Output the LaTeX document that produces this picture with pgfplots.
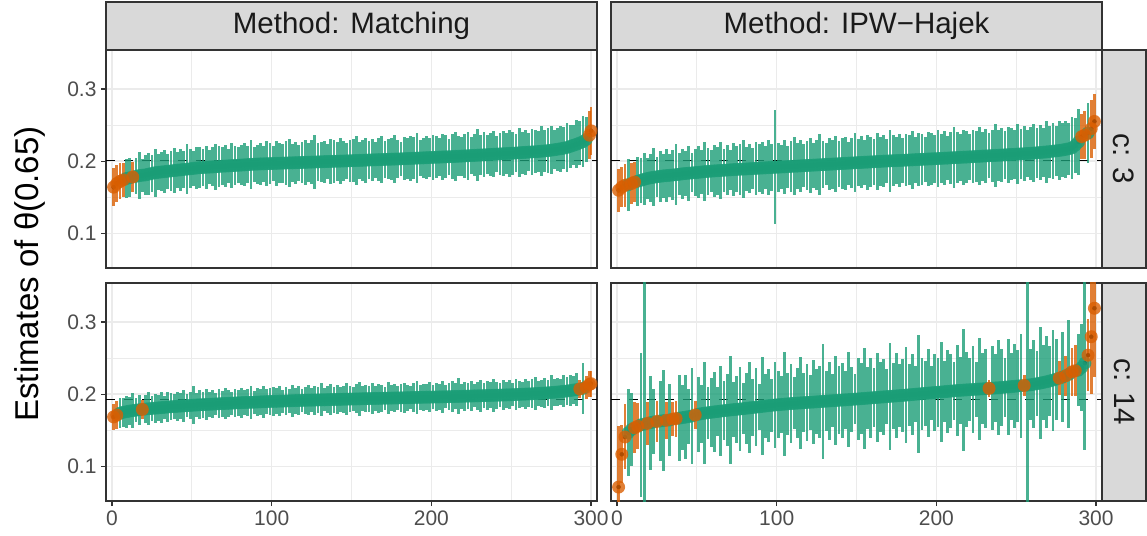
\documentclass[border=0pt]{standalone}
\usepackage{pgfplots}
\usepackage{pgfplotstable}
\pgfplotsset{compat=1.18}
\usepackage{fontspec}
\setmainfont{Liberation Sans}
\definecolor{dkgreen}{HTML}{1B9E77}
\definecolor{dkorange}{HTML}{D95F02}
\definecolor{grey20}{HTML}{333333}
\definecolor{grey30}{HTML}{4D4D4D}
\definecolor{grey10}{HTML}{1A1A1A}
\definecolor{gridc}{HTML}{EBEBEB}
\definecolor{stripc}{HTML}{D9D9D9}

% ---------- Matching, c:3 ----------
\pgfplotstableread[row sep=\\]{
x e h\\
9 0.176 0.027\\ 11 0.177 0.027\\ 15 0.179 0.025\\ 17 0.180 0.032\\ 19 0.1805 0.023\\
21 0.181 0.028\\ 23 0.182 0.029\\ 25 0.183 0.026\\ 27 0.184 0.033\\ 29 0.1845 0.025\\
31 0.185 0.027\\ 33 0.1855 0.030\\ 35 0.186 0.024\\ 37 0.1865 0.028\\ 39 0.187 0.031\\
41 0.1875 0.025\\ 43 0.188 0.029\\ 45 0.1885 0.026\\ 47 0.189 0.035\\ 49 0.1895 0.027\\
51 0.190 0.024\\ 53 0.1905 0.029\\ 55 0.191 0.028\\ 57 0.1912 0.025\\ 59 0.1915 0.030\\
61 0.1918 0.023\\ 63 0.192 0.027\\ 65 0.1923 0.032\\ 67 0.1926 0.028\\ 69 0.193 0.026\\
71 0.1932 0.029\\ 73 0.1935 0.024\\ 75 0.1938 0.031\\ 77 0.194 0.027\\ 79 0.1943 0.025\\
81 0.1946 0.028\\ 83 0.1949 0.030\\ 85 0.1952 0.026\\ 87 0.1955 0.034\\ 89 0.1958 0.024\\
91 0.196 0.027\\ 93 0.1962 0.029\\ 95 0.1963 0.025\\ 97 0.1965 0.031\\ 99 0.1966 0.028\\
101 0.1968 0.024\\ 103 0.197 0.031\\ 105 0.1971 0.028\\ 107 0.1973 0.027\\ 109 0.1974 0.030\\
111 0.1976 0.033\\ 113 0.1977 0.026\\ 115 0.1979 0.029\\ 117 0.198 0.025\\ 119 0.1982 0.028\\
121 0.1983 0.031\\ 123 0.1985 0.027\\ 125 0.1987 0.030\\ 127 0.1988 0.037\\ 129 0.199 0.026\\
131 0.1991 0.028\\ 133 0.1993 0.029\\ 135 0.1995 0.024\\ 137 0.1996 0.031\\ 139 0.1998 0.030\\
141 0.1999 0.027\\ 143 0.2001 0.032\\ 145 0.2002 0.028\\ 147 0.2004 0.025\\ 149 0.2005 0.029\\
151 0.2007 0.030\\ 153 0.2009 0.034\\ 155 0.201 0.026\\ 157 0.2012 0.028\\ 159 0.2014 0.031\\
161 0.2016 0.027\\ 163 0.2017 0.029\\ 165 0.2019 0.025\\ 167 0.2021 0.030\\ 169 0.2022 0.032\\
171 0.2024 0.026\\ 173 0.2026 0.028\\ 175 0.2027 0.029\\ 177 0.2029 0.033\\ 179 0.203 0.027\\
181 0.2032 0.024\\ 183 0.2034 0.030\\ 185 0.2036 0.028\\ 187 0.2038 0.031\\ 189 0.204 0.029\\
191 0.2042 0.035\\ 193 0.2044 0.025\\ 195 0.2046 0.028\\ 197 0.2048 0.030\\ 199 0.205 0.027\\
201 0.2052 0.031\\ 203 0.2054 0.029\\ 205 0.2056 0.026\\ 207 0.2058 0.032\\ 209 0.206 0.030\\
211 0.2061 0.025\\ 213 0.2063 0.031\\ 215 0.2066 0.034\\ 217 0.2068 0.028\\ 219 0.207 0.027\\
221 0.2073 0.030\\ 223 0.2075 0.033\\ 225 0.2078 0.026\\ 227 0.208 0.029\\ 229 0.2083 0.036\\
231 0.2085 0.028\\ 233 0.2088 0.031\\ 235 0.209 0.027\\ 237 0.2093 0.030\\ 239 0.2096 0.032\\
241 0.2098 0.025\\ 243 0.210 0.029\\ 245 0.2103 0.031\\ 247 0.2105 0.028\\ 249 0.2108 0.033\\
251 0.211 0.030\\ 253 0.2113 0.027\\ 255 0.2116 0.034\\ 257 0.2119 0.029\\ 259 0.2122 0.031\\
261 0.2125 0.026\\ 263 0.2128 0.032\\ 265 0.213 0.030\\ 267 0.2134 0.028\\ 269 0.2138 0.035\\
271 0.2142 0.029\\ 273 0.2146 0.031\\ 275 0.2152 0.033\\ 277 0.2158 0.027\\ 279 0.2165 0.030\\
281 0.2172 0.032\\ 283 0.218 0.029\\ 285 0.219 0.034\\ 287 0.2205 0.030\\ 289 0.222 0.028\\
291 0.2235 0.033\\ 293 0.2252 0.031\\ 295 0.227 0.035\\ 297 0.230 0.031\\
}\TLg
\pgfplotstableread[row sep=\\]{
x e h\\
1 0.164 0.026\\ 3 0.169 0.026\\ 5 0.172 0.025\\ 7 0.174 0.024\\ 13 0.178 0.021\\
299 0.236 0.033\\ 300 0.242 0.033\\
}\TLo

% ---------- IPW-Hajek, c:3 ----------
\pgfplotstableread[row sep=\\]{
x e h\\
7 0.1675 0.036\\ 13 0.1722 0.034\\ 15 0.1735 0.031\\ 17 0.1748 0.036\\ 19 0.176 0.029\\
21 0.177 0.033\\ 23 0.1777 0.040\\ 25 0.1784 0.028\\ 27 0.179 0.035\\ 29 0.1796 0.031\\
31 0.180 0.037\\ 33 0.1804 0.030\\ 35 0.1808 0.034\\ 37 0.1813 0.042\\ 39 0.1818 0.029\\
41 0.1825 0.035\\ 43 0.1829 0.031\\ 45 0.1833 0.038\\ 47 0.1837 0.027\\ 49 0.1841 0.033\\
51 0.1845 0.036\\ 53 0.185 0.030\\ 55 0.1855 0.041\\ 57 0.1858 0.032\\ 59 0.1862 0.029\\
61 0.1865 0.036\\ 63 0.1868 0.033\\ 65 0.1871 0.039\\ 67 0.1874 0.030\\ 69 0.1877 0.034\\
71 0.188 0.028\\ 73 0.1883 0.037\\ 75 0.1886 0.032\\ 77 0.1888 0.035\\ 79 0.189 0.040\\
81 0.1892 0.031\\ 83 0.1895 0.034\\ 85 0.1898 0.029\\ 87 0.19 0.037\\ 89 0.1903 0.033\\
91 0.1905 0.036\\ 93 0.1908 0.030\\ 95 0.191 0.038\\ 97 0.1912 0.032\\ 99 0.1915 0.079\\
101 0.1917 0.034\\ 103 0.192 0.031\\ 105 0.1922 0.037\\ 107 0.1925 0.029\\ 109 0.1927 0.035\\
111 0.193 0.040\\ 113 0.1932 0.032\\ 115 0.1935 0.036\\ 117 0.1937 0.030\\ 119 0.194 0.034\\
121 0.1942 0.038\\ 123 0.1945 0.031\\ 125 0.1947 0.035\\ 127 0.195 0.042\\ 129 0.1952 0.033\\
131 0.1955 0.029\\ 133 0.1957 0.036\\ 135 0.196 0.034\\ 137 0.1962 0.039\\ 139 0.1965 0.032\\
141 0.1967 0.035\\ 143 0.197 0.037\\ 145 0.1972 0.030\\ 147 0.1975 0.034\\ 149 0.1977 0.041\\
151 0.198 0.033\\ 153 0.1982 0.036\\ 155 0.1985 0.031\\ 157 0.1987 0.038\\ 159 0.199 0.035\\
161 0.1992 0.032\\ 163 0.1995 0.039\\ 165 0.1997 0.034\\ 167 0.2 0.036\\ 169 0.2002 0.030\\
171 0.2004 0.043\\ 173 0.2006 0.035\\ 175 0.2008 0.033\\ 177 0.201 0.037\\ 179 0.2012 0.031\\
181 0.2014 0.036\\ 183 0.2016 0.034\\ 185 0.2018 0.040\\ 187 0.2021 0.032\\ 189 0.2023 0.037\\
191 0.2025 0.035\\ 193 0.2027 0.031\\ 195 0.203 0.038\\ 197 0.2032 0.036\\ 199 0.2034 0.033\\
201 0.2036 0.039\\ 203 0.2039 0.034\\ 205 0.2041 0.037\\ 207 0.2043 0.031\\ 209 0.2046 0.036\\
211 0.2048 0.042\\ 213 0.205 0.035\\ 215 0.2053 0.033\\ 217 0.2055 0.038\\ 219 0.2057 0.036\\
221 0.206 0.032\\ 223 0.2062 0.037\\ 225 0.2065 0.035\\ 227 0.2067 0.040\\ 229 0.207 0.034\\
231 0.2072 0.038\\ 233 0.2075 0.031\\ 235 0.2077 0.036\\ 237 0.208 0.044\\ 239 0.2082 0.035\\
241 0.2085 0.037\\ 243 0.2088 0.033\\ 245 0.209 0.039\\ 247 0.2093 0.036\\ 249 0.2095 0.034\\
251 0.2098 0.041\\ 253 0.21 0.035\\ 255 0.2103 0.038\\ 257 0.2106 0.032\\ 259 0.2109 0.037\\
261 0.2112 0.040\\ 263 0.2116 0.035\\ 265 0.212 0.038\\ 267 0.2124 0.034\\ 269 0.2128 0.043\\
271 0.2133 0.036\\ 273 0.2138 0.039\\ 275 0.2143 0.035\\ 277 0.2148 0.041\\ 279 0.2155 0.037\\
281 0.2163 0.039\\ 283 0.2172 0.036\\ 285 0.2185 0.043\\ 287 0.222 0.038\\ 289 0.2265 0.046\\
295 0.239 0.042\\
}\TRg
\pgfplotstableread[row sep=\\]{
x e h\\
1 0.1597 0.030\\ 3 0.164 0.028\\ 5 0.1665 0.030\\ 9 0.169 0.029\\ 11 0.171 0.028\\
291 0.234 0.031\\ 293 0.236 0.033\\ 297 0.245 0.040\\ 299 0.255 0.038\\
}\TRo

% ---------- Matching, c:14 ----------
\pgfplotstableread[row sep=\\]{
x e h\\
5 0.1736 0.021\\ 7 0.1748 0.020\\ 9 0.1757 0.022\\ 11 0.1765 0.019\\ 13 0.1772 0.024\\
15 0.1778 0.017\\ 17 0.1784 0.021\\
21 0.1794 0.019\\ 23 0.1798 0.023\\ 25 0.1802 0.017\\ 27 0.1806 0.020\\ 29 0.181 0.018\\
31 0.1814 0.022\\ 33 0.1818 0.016\\ 35 0.1822 0.021\\ 37 0.1826 0.019\\ 39 0.1829 0.017\\
41 0.1832 0.020\\ 43 0.1835 0.018\\ 45 0.1838 0.022\\ 47 0.1841 0.016\\ 49 0.1844 0.019\\
51 0.1847 0.026\\ 53 0.185 0.017\\ 55 0.1853 0.020\\ 57 0.1855 0.018\\ 59 0.1857 0.021\\
61 0.186 0.017\\ 63 0.1862 0.019\\ 65 0.1865 0.015\\ 67 0.1867 0.020\\ 69 0.1869 0.018\\
71 0.1871 0.022\\ 73 0.1873 0.019\\ 75 0.1875 0.016\\ 77 0.1878 0.020\\ 79 0.188 0.018\\
81 0.1882 0.021\\ 83 0.1884 0.017\\ 85 0.1886 0.019\\ 87 0.1887 0.023\\ 89 0.1889 0.016\\
91 0.1891 0.020\\ 93 0.1893 0.018\\ 95 0.1895 0.022\\ 97 0.1897 0.017\\ 99 0.1899 0.019\\
101 0.19 0.020\\ 103 0.1901 0.018\\ 105 0.1903 0.021\\ 107 0.1904 0.016\\ 109 0.1906 0.019\\
111 0.1907 0.017\\ 113 0.1909 0.022\\ 115 0.191 0.018\\ 117 0.1912 0.020\\ 119 0.1913 0.016\\
121 0.1915 0.019\\ 123 0.1916 0.021\\ 125 0.1917 0.017\\ 127 0.1918 0.020\\ 129 0.192 0.018\\
131 0.1921 0.023\\ 133 0.1922 0.016\\ 135 0.1923 0.019\\ 137 0.1925 0.021\\ 139 0.1926 0.018\\
141 0.1927 0.020\\ 143 0.1928 0.017\\ 145 0.193 0.019\\ 147 0.1931 0.022\\ 149 0.1932 0.018\\
151 0.1933 0.016\\ 153 0.1934 0.020\\ 155 0.1935 0.024\\ 157 0.1937 0.017\\ 159 0.1938 0.019\\
161 0.1939 0.018\\ 163 0.194 0.021\\ 165 0.1941 0.017\\ 167 0.1942 0.020\\ 169 0.1943 0.019\\
171 0.1944 0.016\\ 173 0.1945 0.022\\ 175 0.1946 0.018\\ 177 0.1947 0.020\\ 179 0.1948 0.017\\
181 0.1949 0.019\\ 183 0.195 0.021\\ 185 0.1951 0.018\\ 187 0.1952 0.016\\ 189 0.1954 0.020\\
191 0.1955 0.023\\ 193 0.1956 0.017\\ 195 0.1957 0.019\\ 197 0.1958 0.018\\ 199 0.1959 0.021\\
201 0.196 0.017\\ 203 0.1961 0.020\\ 205 0.1962 0.018\\ 207 0.1963 0.022\\ 209 0.1964 0.016\\
211 0.1965 0.019\\ 213 0.1967 0.021\\ 215 0.1968 0.018\\ 217 0.1969 0.025\\ 219 0.197 0.017\\
221 0.1972 0.020\\ 223 0.1973 0.018\\ 225 0.1974 0.021\\ 227 0.1976 0.016\\ 229 0.1977 0.019\\
231 0.1978 0.022\\ 233 0.198 0.017\\ 235 0.1981 0.020\\ 237 0.1982 0.018\\ 239 0.1984 0.023\\
241 0.1985 0.019\\ 243 0.1987 0.017\\ 245 0.1988 0.021\\ 247 0.199 0.018\\ 249 0.1991 0.020\\
251 0.1993 0.016\\ 253 0.1995 0.022\\ 255 0.1997 0.019\\ 257 0.1999 0.017\\ 259 0.2001 0.021\\
261 0.2003 0.018\\ 263 0.2005 0.020\\ 265 0.2008 0.023\\ 267 0.201 0.017\\ 269 0.2013 0.019\\
271 0.2016 0.021\\ 273 0.2019 0.018\\ 275 0.2022 0.024\\ 277 0.2026 0.019\\ 279 0.203 0.020\\
281 0.2034 0.018\\ 283 0.2039 0.022\\ 285 0.2044 0.019\\ 287 0.205 0.021\\ 289 0.2057 0.020\\
291 0.2064 0.023\\ 295 0.2081 0.035\\
}\BLg
\pgfplotstableread[row sep=\\]{
x e h\\
1 0.1685 0.018\\ 3 0.171 0.019\\ 19 0.1789 0.013\\
293 0.2072 0.013\\ 297 0.2098 0.016\\ 299 0.2135 0.018\\ 300 0.2145 0.018\\
}\BLo

% ---------- IPW-Hajek, c:14 ----------
\pgfplotstableread[row sep=\\]{
x e h\\
7 0.1465 0.060\\ 9 0.151 0.050\\ 15 0.1575 0.100\\ 17 0.1585 0.200\\
21 0.1605 0.065\\ 23 0.1615 0.045\\ 27 0.1628 0.055\\ 29 0.1633 0.070\\
33 0.1643 0.050\\ 39 0.1668 0.060\\
41 0.1675 0.045\\ 43 0.1682 0.058\\ 45 0.169 0.038\\ 47 0.1698 0.066\\
51 0.1722 0.052\\ 53 0.173 0.040\\ 55 0.1737 0.071\\ 57 0.1743 0.036\\ 59 0.1749 0.048\\
61 0.1755 0.055\\ 63 0.176 0.034\\ 65 0.1766 0.062\\ 67 0.1771 0.041\\ 69 0.1776 0.050\\
71 0.1781 0.075\\ 73 0.1786 0.038\\ 75 0.179 0.046\\ 77 0.1795 0.058\\ 79 0.1799 0.035\\
81 0.1805 0.049\\ 83 0.181 0.063\\ 85 0.1815 0.040\\ 87 0.182 0.054\\ 89 0.1825 0.032\\
91 0.1831 0.068\\ 93 0.1836 0.044\\ 95 0.1841 0.051\\ 97 0.1846 0.037\\ 99 0.185 0.060\\
101 0.1854 0.046\\ 103 0.1858 0.039\\ 105 0.1862 0.072\\ 107 0.1866 0.043\\ 109 0.187 0.055\\
111 0.1873 0.036\\ 113 0.1876 0.049\\ 115 0.1879 0.064\\ 117 0.1882 0.041\\ 119 0.1885 0.053\\
121 0.1888 0.038\\ 123 0.1891 0.058\\ 125 0.1894 0.045\\ 127 0.1897 0.050\\ 129 0.19 0.080\\
131 0.1903 0.042\\ 133 0.1906 0.054\\ 135 0.1909 0.037\\ 137 0.1912 0.061\\ 139 0.1915 0.047\\
141 0.1918 0.052\\ 143 0.1921 0.040\\ 145 0.1924 0.066\\ 147 0.1928 0.045\\ 149 0.1931 0.035\\
151 0.1934 0.057\\ 153 0.1938 0.049\\ 155 0.1941 0.070\\ 157 0.1945 0.043\\ 159 0.1948 0.055\\
161 0.1952 0.041\\ 163 0.1955 0.062\\ 165 0.1959 0.048\\ 167 0.1962 0.053\\ 169 0.1966 0.038\\
171 0.1969 0.074\\ 173 0.1973 0.046\\ 175 0.1976 0.059\\ 177 0.198 0.044\\ 179 0.1983 0.051\\
181 0.1987 0.066\\ 183 0.1991 0.043\\ 185 0.1995 0.056\\ 187 0.1999 0.039\\ 189 0.2003 0.082\\
191 0.2007 0.050\\ 193 0.2011 0.045\\ 195 0.2015 0.061\\ 197 0.2019 0.037\\ 199 0.2023 0.054\\
201 0.2026 0.048\\ 203 0.203 0.069\\ 205 0.2034 0.042\\ 207 0.2038 0.057\\ 209 0.2042 0.051\\
211 0.2046 0.040\\ 213 0.205 0.063\\ 215 0.2053 0.046\\ 217 0.2056 0.085\\ 219 0.2059 0.052\\
221 0.2062 0.044\\ 223 0.2065 0.060\\ 225 0.2068 0.038\\ 227 0.2071 0.071\\ 229 0.2074 0.049\\
231 0.2077 0.055\\ 235 0.2083 0.058\\ 237 0.2086 0.047\\ 239 0.2089 0.066\\
241 0.2093 0.053\\ 243 0.2097 0.041\\ 245 0.2101 0.067\\ 247 0.2105 0.046\\ 249 0.2109 0.058\\
251 0.2113 0.050\\ 253 0.2117 0.072\\ 257 0.2125 0.170\\ 259 0.213 0.049\\
261 0.2137 0.061\\ 263 0.2145 0.045\\ 265 0.2153 0.078\\ 267 0.2162 0.052\\ 269 0.2172 0.064\\
271 0.2183 0.048\\ 273 0.2195 0.070\\ 275 0.2208 0.056\\ 279 0.2236 0.062\\
283 0.2275 0.075\\ 289 0.2333 0.050\\ 291 0.237 0.060\\ 293 0.243 0.120\\
}\BRg
\pgfplotstableread[row sep=\\]{
x e h\\
1 0.0713 0.085\\ 3 0.1167 0.040\\ 5 0.1407 0.045\\ 11 0.1535 0.035\\ 13 0.1555 0.032\\
19 0.1595 0.030\\ 25 0.1622 0.028\\ 31 0.1638 0.026\\ 35 0.1655 0.024\\ 37 0.1662 0.025\\
49 0.1712 0.019\\ 233 0.208 0.012\\ 255 0.2121 0.015\\ 277 0.2222 0.024\\
281 0.2255 0.028\\ 285 0.231 0.033\\ 287 0.2325 0.035\\ 295 0.254 0.050\\
297 0.2796 0.080\\ 299 0.319 0.095\\
}\BRo

\pgfplotsset{
  panel/.style={
    anchor=south west, scale only axis, width=491pt, height=218pt,
    xmin=-3.75, xmax=303.75, ymin=0.052, ymax=0.354,
    xtick={0,100,200,300}, minor xtick={50,150,250},
    ytick={0.1,0.2,0.3}, minor ytick={0.15,0.25},
    xticklabels={}, yticklabels={},
    grid=both,
    major grid style={draw=gridc, line width=1.6pt},
    minor grid style={draw=gridc, line width=0.8pt},
    axis line style={draw=grey20, line width=1.2pt},
    tick align=outside, major tick length=5pt, minor tick length=0pt,
    tick style={draw=grey20, line width=1.1pt},
    xtick pos=bottom, ytick pos=left,
    tick label style={font=\fontsize{21}{21}\selectfont, text=grey30},
    xticklabel style={yshift=-1pt},
    yticklabel style={xshift=-1pt},
  }
}

\newcommand{\layers}[3]{%
  \addplot[black, line width=1.4pt, dash pattern=on 9pt off 9pt] coordinates {(-3.75,#3) (303.75,#3)};
  \addplot[only marks, mark=none, error bars/.cd, y dir=both, y explicit, error mark=none,
    error bar style={draw=dkgreen, line width=2.8pt, opacity=0.8}] table[x=x,y=e,y error=h] {#1};
  \addplot[only marks, mark=none, error bars/.cd, y dir=both, y explicit, error mark=none,
    error bar style={draw=dkorange, line width=2.8pt, opacity=0.8}] table[x=x,y=e,y error=h] {#2};
  \addplot[dkgreen, only marks, mark=*, mark size=6.5pt, mark options={draw=dkgreen, fill=dkgreen, fill opacity=0.8, draw opacity=0}] table[x=x,y=e] {#1};
  \addplot[dkorange, only marks, mark=*, mark size=6.5pt, mark options={draw=dkorange, fill=dkorange, fill opacity=0.8, draw opacity=0}] table[x=x,y=e] {#2};
}

\begin{document}
\begin{tikzpicture}
\useasboundingbox (0pt,0pt) rectangle (1147pt,535pt);

\begin{axis}[panel, at={(106pt,267pt)}, xtick style={draw=none}, yticklabels={0.1,0.2,0.3}]
\layers{\TLg}{\TLo}{0.201}
\end{axis}
\begin{axis}[panel, at={(611pt,267pt)}, xtick style={draw=none}, ytick style={draw=none}]
\layers{\TRg}{\TRo}{0.201}
\end{axis}
\begin{axis}[panel, at={(106pt,34pt)}, xticklabels={0,100,200,300}, yticklabels={0.1,0.2,0.3}]
\layers{\BLg}{\BLo}{0.193}
\end{axis}
\begin{axis}[panel, at={(611pt,34pt)}, xticklabels={0,100,200,300}, ytick style={draw=none}]
\layers{\BRg}{\BRo}{0.193}
\end{axis}

% strips
\draw[fill=stripc, draw=grey20, line width=1.2pt] (106pt,485pt) rectangle (597pt,533pt);
\draw[fill=stripc, draw=grey20, line width=1.2pt] (611pt,485pt) rectangle (1102pt,533pt);
\draw[fill=stripc, draw=grey20, line width=1.2pt] (1102pt,267pt) rectangle (1146pt,485pt);
\draw[fill=stripc, draw=grey20, line width=1.2pt] (1102pt,34pt) rectangle (1146pt,252pt);
\node[text=grey10, font=\fontsize{29.5}{30}\selectfont] at (351.5pt,509pt) {Method: Matching};
\node[text=grey10, font=\fontsize{29.5}{30}\selectfont] at (856.5pt,509pt) {Method: IPW−Hajek};
\node[text=grey10, font=\fontsize{29.5}{30}\selectfont, rotate=-90] at (1124pt,376pt) {c: 3};
\node[text=grey10, font=\fontsize{29.5}{30}\selectfont, rotate=-90] at (1124pt,143pt) {c: 14};
\node[text=black, font=\fontsize{33}{34}\selectfont, rotate=90] at (30pt,261pt) {Estimates of θ(0.65)};
\end{tikzpicture}
\end{document}
